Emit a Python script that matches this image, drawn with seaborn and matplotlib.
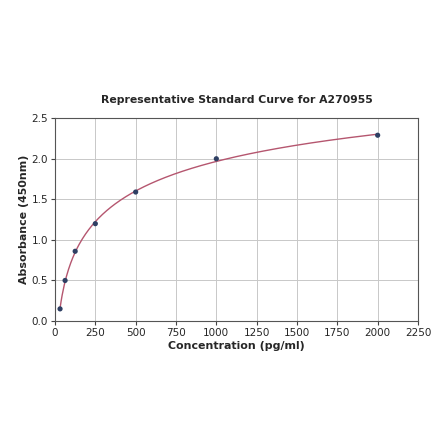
import numpy as np
import pandas as pd
import matplotlib
matplotlib.use("Agg")
import matplotlib.pyplot as plt
import seaborn as sns

# standard points
conc = [31.25, 62.5, 125, 250, 500, 1000, 2000]
absorb = [0.15, 0.50, 0.86, 1.20, 1.59, 2.00, 2.29]

sns.set_style("whitegrid")
plt.rcParams['font.family'] = ['DejaVu Sans']

fig = plt.figure(figsize=(4.40, 4.41), dpi=100)
ax = fig.add_axes([0.125, 0.272, 0.825, 0.460])

# smooth fit curve: cubic in log(conc)
coef = np.polyfit(np.log(conc), absorb, 3)
xs = np.linspace(conc[0], conc[-1], 300)
fit = pd.DataFrame({"x": xs, "y": np.polyval(coef, np.log(xs))})
pts = pd.DataFrame({"x": conc, "y": absorb})

sns.lineplot(data=fit, x="x", y="y", ax=ax, color="#b5566f", linewidth=1.0)
sns.scatterplot(data=pts, x="x", y="y", ax=ax, color="#2e3f63", s=14,
                edgecolor="none", zorder=3)

ax.set_xlim(0, 2250)
ax.set_ylim(0, 2.5)
ax.set_xticks(np.arange(0, 2251, 250))
ax.set_yticks(np.arange(0, 2.51, 0.5))
ax.tick_params(labelsize=7.5, length=3, color="#444444", left=True, bottom=True, pad=2)
ax.grid(color="#c8c8c8", linewidth=0.7)
for s in ax.spines.values():
    s.set_color("#555555")
    s.set_linewidth(0.8)

ax.set_xlabel("Concentration (pg/ml)", fontsize=7.9, fontweight="bold", labelpad=2)
ax.set_ylabel("Absorbance (450nm)", fontsize=7.9, fontweight="bold", labelpad=2)
ax.set_title("Representative Standard Curve for A270955", fontsize=7.8,
             fontweight="bold", pad=11)

fig.savefig("out.png", dpi=100)
